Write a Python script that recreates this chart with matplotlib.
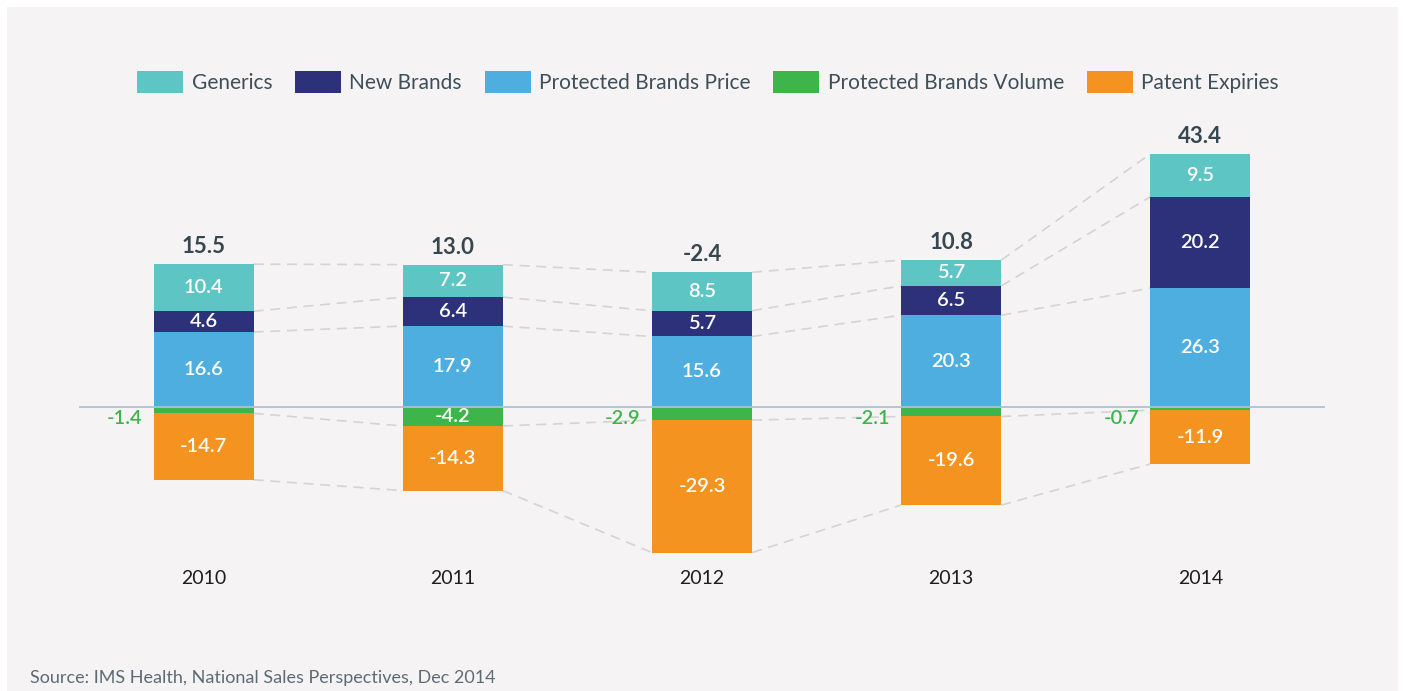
import matplotlib.pyplot as plt
import numpy as np
from matplotlib.patches import Patch, Rectangle

years = ['2010', '2011', '2012', '2013', '2014']
generics = [10.4, 7.2, 8.5, 5.7, 9.5]
new_brands = [4.6, 6.4, 5.7, 6.5, 20.2]
pb_price = [16.6, 17.9, 15.6, 20.3, 26.3]
pb_volume = [-1.4, -4.2, -2.9, -2.1, -0.7]
patent_exp = [-14.7, -14.3, -29.3, -19.6, -11.9]

labels = ['Generics', 'New Brands', 'Protected Brands Price',
          'Protected Brands Volume', 'Patent Expiries']
colors = ['#5ec5c5', '#2c317a', '#4eaee0', '#3db54a', '#f49320']

plt.rcParams['font.family'] = ['Lato', 'DejaVu Sans']

W, H = 1403, 691
fig = plt.figure(figsize=(W / 100, H / 100), dpi=100)
fig.patch.set_facecolor('white')
fig.patches.append(Rectangle((7 / W, 0), (1398 - 7) / W, (H - 7) / H,
                             transform=fig.transFigure, facecolor='#f5f3f4',
                             edgecolor='none', zorder=-10))

# axes placed in pixel terms: x from 80 to 1325, y from 120 to 560
ax = fig.add_axes([79 / W, 1 - 560 / H, 1246 / W, 440 / H])
ax.set_facecolor('none')
ax.set_xlim(-0.5, 4.5)
ax.set_ylim(-33.85, 63.5)
for s in ax.spines.values():
    s.set_visible(False)
ax.set_yticks([])

x = np.arange(len(years))
w = 0.402
gen = np.array(generics)
nb = np.array(new_brands)
pbp = np.array(pb_price)
pbv = np.array(pb_volume)
pe = np.array(patent_exp)

ax.bar(x, pbp, w, color=colors[2], zorder=2)
ax.bar(x, nb, w, bottom=pbp, color=colors[1], zorder=2)
ax.bar(x, gen, w, bottom=pbp + nb, color=colors[0], zorder=2)
ax.bar(x, pbv, w, color=colors[3], zorder=2)
ax.bar(x, pe, w, bottom=pbv, color=colors[4], zorder=2)

ax.axhline(0, color='#a9c4d4', lw=1.3, zorder=3)

# dashed connectors between neighbouring bars
levels = [pbp, pbp + nb, pbp + nb + gen, pbv, pbv + pe]
for lev in levels:
    for i in range(len(x) - 1):
        ax.plot([x[i] + w / 2, x[i + 1] - w / 2], [lev[i], lev[i + 1]],
                color='#d4d4d4', lw=1.2, dashes=(6, 4), zorder=1)

# values inside bars
def inside(vals, bottoms):
    for xi, v, b in zip(x, vals, bottoms):
        ax.text(xi, b + v / 2, f'{v:.1f}', ha='center', va='center',
                color='white', fontsize=14.5, fontweight='semibold', zorder=4)

inside(pbp, np.zeros(5))
inside(nb, pbp)
inside(gen, pbp + nb)
inside(pe, pbv)
for xi, v in zip(x, pbv):
    if abs(v) >= 3:
        ax.text(xi, v / 2, f'{v:.1f}', ha='center', va='center',
                color='white', fontsize=14.5, fontweight='semibold', zorder=4)
    else:
        ax.annotate(f'{v:.1f}', (xi - w / 2, 0), xytext=(-8, -8),
                    textcoords='offset points', ha='right', va='center',
                    color=colors[3], fontsize=14.5, fontweight='semibold')

totals = pbp + nb + gen + pbv + pe
for xi, top, t in zip(x, pbp + nb + gen, totals):
    ax.annotate(f'{t:.1f}', (xi, top), xytext=(0, 5), textcoords='offset points',
                ha='center', va='bottom', color='#37474f', fontsize=16,
                fontweight='bold')

ax.set_xticks(x)
ax.set_xticklabels(years, fontsize=14, color='#1e1e1e')
ax.tick_params(axis='x', length=0, pad=7.5)

handles = [Patch(facecolor=c, label=l) for c, l in zip(colors, labels)]
fig.legend(handles=handles, loc='center', bbox_to_anchor=(708 / W, 1 - 82 / H),
           ncol=5, frameon=False, fontsize=15, labelcolor='#3d4f5a',
           handlelength=2.2, handleheight=1.3, handletextpad=0.4,
           columnspacing=1.1)

fig.text(30 / W, 1 - 678 / H, 'Source: IMS Health, National Sales Perspectives, Dec 2014',
         ha='left', va='center', fontsize=13, color='#5d6b75')

fig.savefig('out.png', dpi=100)
